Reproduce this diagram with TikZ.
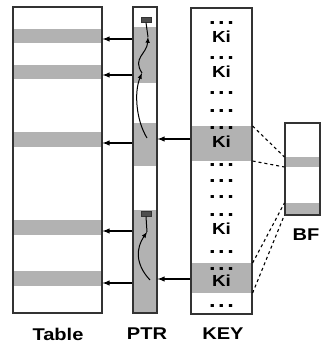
\documentclass[tikz,border=0pt]{standalone}
\usepackage{fontspec}
\setmainfont[FakeStretch=1.18]{Liberation Sans}
\usepackage{tikz}
\usetikzlibrary{arrows,calc,patterns,positioning}
\tikzset{>=latex}

\begin{document}
\begin{tikzpicture}[x=1pt,y=-1pt]

        \useasboundingbox (0,0) rectangle (324,347);
        % Setup the styles
        \tikzset{column/.style={draw=black!80,
                                line width=1.2pt,
                                inner sep=0pt},
                 band/.style={fill=gray!60},
                 entry/.style={font=\fontsize{16}{16}\selectfont\bfseries,
                               inner sep=0pt},
                 dotrow/.style={font=\fontsize{20}{20}\selectfont\bfseries,
                                inner sep=0pt},
                 lbl/.style={font=\fontsize{17}{17}\selectfont\bfseries,
                             inner sep=0pt},
                 nil/.style={draw=black!80, fill=black!70,
                             minimum width=10, minimum height=5,
                             inner sep=0pt},
                 link/.style={->, line width=1.4pt},
                 chain/.style={-latex, line width=1pt}}
        \newcommand{\keydots}{.\hspace{2.6pt}.\hspace{2.6pt}.}

        % Gray bands
        \foreach \a/\b in {29/43,65/79,132/147,220/235,271/286}
            \fill[band] (13,\a) rectangle (102,\b);
        \foreach \a/\b in {27/83,123/166,210/313}
            \fill[band] (133,\a) rectangle (157,\b);
        \foreach \a/\b in {126/161,263/293}
            \fill[band] (191,\a) rectangle (252,\b);
        \foreach \a/\b in {157/167,203/215}
            \fill[band] (285,\a) rectangle (320,\b);

        % Draw the columns
        \node[column, minimum width=89, minimum height=306] at (57.5,160)  (tab) {};
        \node[column, minimum width=24, minimum height=306] at (145,160)   (ptr) {};
        \node[column, minimum width=61, minimum height=306] at (221.5,161) (key) {};
        \node[column, minimum width=35, minimum height=92]  at (302.5,169) (bf)  {};

        % Keys
        \foreach \y in {23,58,93,111,128,165,181,197,215,252,269,306}
            \node[dotrow] at (221.5,\y) {\keydots};
        \foreach \y in {37,72,142,229,281}
            \node[entry] at (221.5,\y) {Ki};

        % Labels
        \node[lbl] at (58,334)  (tabl) {Table};
        \node[lbl] at (147,334) (ptrl) {PTR};
        \node[lbl] at (223,334) (keyl) {KEY};
        \node[lbl] at (306,235) (bfl)  {BF};

        % Pointers into the table
        \foreach \y in {39,75,143,231,283}
            \draw[link] (ptr.west |- 0,\y) -- (tab.east |- 0,\y);
        \foreach \y in {139,279}
            \draw[link] (key.west |- 0,\y) -- (ptr.east |- 0,\y);

        % Bloom filter bits
        \draw[dashed, line width=1.1pt] (key.east |- 0,126) -- (bf.west |- 0,157)
                                        (key.east |- 0,161) -- (bf.west |- 0,167)
                                        (key.east |- 0,263) -- (bf.west |- 0,203)
                                        (key.east |- 0,293) -- (bf.west |- 0,215);

        % Chains inside PTR
        \node[nil] at (146,20)  (nil1) {};
        \node[nil] at (146,214) (nil2) {};
        \coordinate (s1) at (147,138);
        \coordinate (m1) at (142,73);
        \coordinate (e1) at (148,37);
        \coordinate (s2) at (150,280);
        \coordinate (e2) at (147,232);
        \draw[chain] (s1) .. controls (136,120) and (134,92) .. (m1);
        \draw[chain] (m1) .. controls (132,58) and (147,54) .. (e1);
        \draw[line width=1pt] (e1) -- (nil1.south);
        \draw[chain] (s2) .. controls (135,264) and (136,248) .. (e2);
        \draw[line width=1pt] (e2) -- (nil2.south);
    \end{tikzpicture}
\end{document}
